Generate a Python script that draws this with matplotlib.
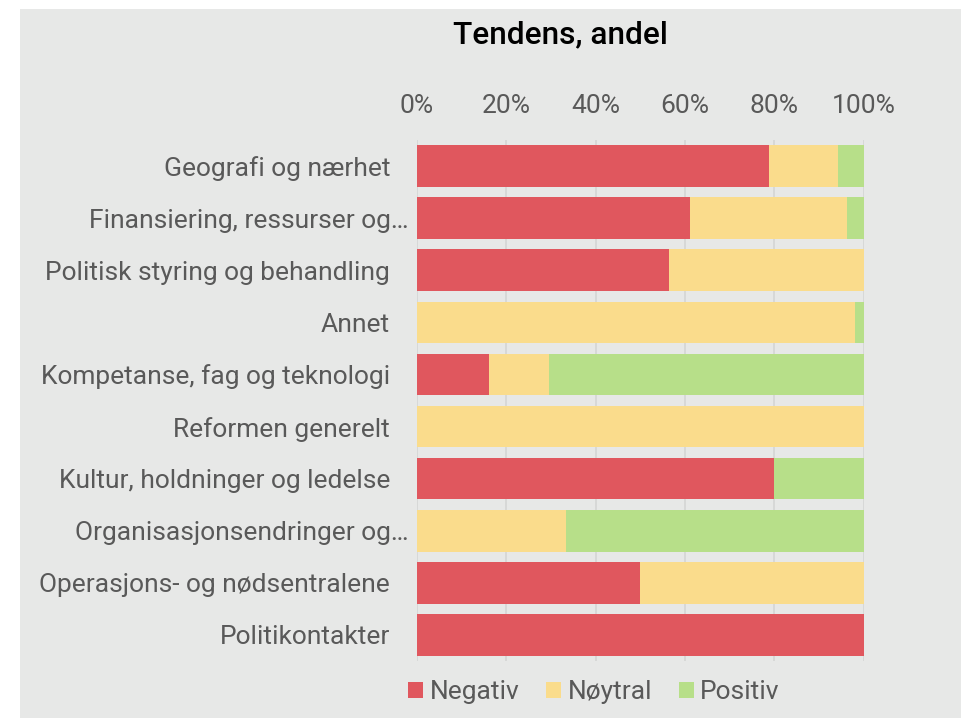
import numpy as np
import matplotlib.pyplot as plt
from matplotlib.patches import Rectangle, Patch
from matplotlib.transforms import ScaledTranslation

# categories, top to bottom as in the chart
categories = [
    "Geografi og nærhet",
    "Finansiering, ressurser og…",
    "Politisk styring og behandling",
    "Annet",
    "Kompetanse, fag og teknologi",
    "Reformen generelt",
    "Kultur, holdninger og ledelse",
    "Organisasjonsendringer og…",
    "Operasjons- og nødsentralene",
    "Politikontakter",
]

# shares (fraction of each row)
negativ = [0.788, 0.611, 0.564, 0.0, 0.162, 0.0, 0.80, 0.0, 0.50, 1.0]
noytral = [0.154, 0.352, 0.436, 0.979, 0.135, 1.0, 0.0, 0.333, 0.50, 0.0]
positiv = [0.058, 0.037, 0.0, 0.021, 0.703, 0.0, 0.20, 0.667, 0.0, 0.0]

series_names = ["Negativ", "Nøytral", "Positiv"]
colors = ["#E0575E", "#FADC8C", "#B7DF89"]
xticks = [0, 0.2, 0.4, 0.6, 0.8, 1.0]
xticklabels = ["0%", "20%", "40%", "60%", "80%", "100%"]

bg = "#E7E8E7"
txt = "#595959"
plt.rcParams['font.family'] = ['Roboto', 'DejaVu Sans']

fig = plt.figure(figsize=(9.62, 7.18), dpi=100)
fig.patch.set_facecolor("white")
# grey panel behind the chart
fig.patches.append(Rectangle((20 / 962, 0), 1, (718 - 9) / 718, transform=fig.transFigure,
                             facecolor=bg, edgecolor="none", zorder=-10))

ax = fig.add_axes([416.6 / 962, 57 / 718, 447.3 / 962, 521 / 718])
ax.set_facecolor(bg)

y = np.arange(len(categories))
left = np.zeros(len(categories))
for vals, name, c in zip([negativ, noytral, positiv], series_names, colors):
    ax.barh(y, vals, left=left, height=0.8, color=c, label=name, zorder=3)
    left += np.array(vals)

ax.set_xlim(0, 1)
ax.set_ylim(len(categories) - 0.5, -0.5)
ax.set_yticks(y)
ax.set_yticklabels(categories)
ax.set_xticks(xticks)
ax.set_xticklabels(xticklabels)
ax.xaxis.tick_top()
ax.tick_params(axis="x", length=0, pad=16, labelsize=19, labelcolor=txt)
ax.tick_params(axis="y", length=0, pad=19, labelsize=19, labelcolor=txt)
ax.grid(axis="x", color="#D4D5D4", linewidth=1.2, zorder=0)
for s in ax.spines.values():
    s.set_visible(False)

# truncated labels hang a bit further right (the ellipsis)
for lab in ax.get_yticklabels():
    if lab.get_text().endswith("…"):
        lab.set_transform(lab.get_transform() + ScaledTranslation(0.18, 0, fig.dpi_scale_trans))

fig.text(560 / 962, 1 - 35 / 718, "Tendens, andel", ha="center", va="center",
         fontsize=22.8, fontweight="medium", color="black")

handles = [Patch(facecolor=c, edgecolor="none") for c in colors]
fig.legend(handles, series_names, loc="center", bbox_to_anchor=(594 / 962, 1 - 692 / 718),
           ncol=3, frameon=False, fontsize=19, labelcolor=txt,
           handlelength=0.57, handleheight=0.57, handletextpad=0.25, columnspacing=1.0)

fig.savefig("out.png", dpi=100, facecolor="white")
